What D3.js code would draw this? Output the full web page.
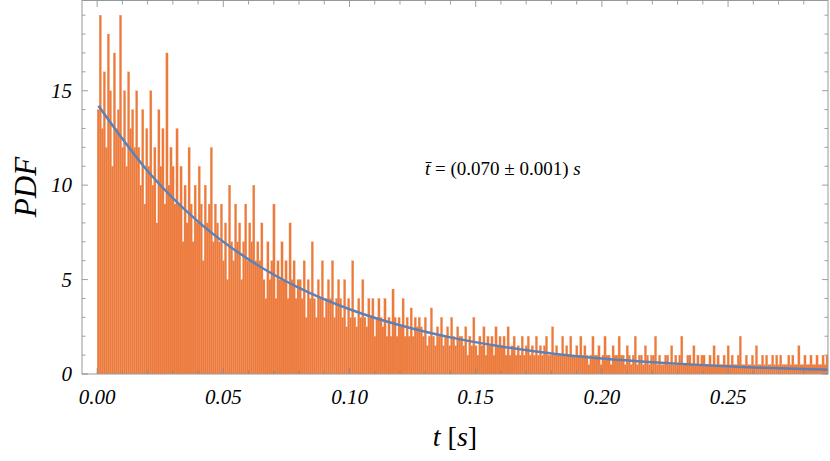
<!DOCTYPE html><html><head><meta charset="utf-8">
<script src="https://cdn.jsdelivr.net/npm/d3@7"></script>
<style>body{margin:0;background:#fff}text{font-family:"Liberation Serif","DejaVu Serif",serif;font-style:italic}</style>
</head><body><svg id="c" width="830" height="461"></svg>
<script>
const binWidth = 0.0008;
const pdfValues = [
14,19,13,16,12,18,15,11,17,13,14,19,12,15,11,16,13,14,12,15,
12,10,14,9,13,11,15,10,12,8,14,11,13,9,17,10,12,11,9,13,
9,11,7,10,8,12,9,7,10,8,11,9,6,10,8,9,12,7,9,8,
7,9,6,8,5,10,7,6,9,7,8,5,7,9,6,8,7,10,6,7,
6,8,5,4,7,5,6,9,4,6,5,7,5,6,4,8,5,6,4,5,
5,4,6,3,5,4,7,4,3,5,4,6,3,4,5,4,6,3,4,5,
4,3,5,2.5,4,3,6,3,2.5,4,3,5,3,2.5,4,3,4,2,3,4,
3,2.5,4,2,3,2,4.5,3,2,3,2.5,4,2,3,2,3.5,2,3,2.5,3,
2.5,2,3,1.5,2,3.5,2,1.5,2.5,2,3,1.5,2,2.5,1.5,3,2,1.5,2.5,2,
2,1.5,2.5,1,2,1.5,3,1.5,1,2,1.5,2.5,1,2,1.5,2,1,2.5,1.5,2,
1.5,2,1,2.5,1,1.5,2,1,1.5,1,2,1,1.5,2,1,1.5,1,2,1,1.5,
1,1.5,2,1,1,2.5,1,1.5,1,1,2,1,1.5,1,2,1,1,1.5,1,2,
1,1.5,1,0.5,1,2,1,1,1.5,0.5,1,2,1,1,0.5,1.5,1,1,2,1,
1,0.5,1.5,1,0.5,1,2,0.5,1,1,0.5,1.5,1,0.5,1,1,2,0.5,1,0.5,
0.5,1,1,0.5,1.5,0.5,1,0.5,1,2,0.5,0.5,1,1,0.5,1.5,0.5,1,0.5,1,
1,0.5,0.5,1,0.5,1.5,0.5,1,0.5,0.5,1,0.5,1.5,0.5,1,0.5,0.5,1,2,0.5,
0.5,1,0.5,0.5,1,0.5,1.5,0.5,0.5,1,0.5,1,0.5,0.5,1,0.5,1,0.5,1,0.5,
0.5,0.5,1,0.5,1,0.5,0.5,1.5,0.5,0.5,1,0.5,0.5,1,0.5,0.5,1,0.5,0.5,1,
0.5,1,2];
const fitT = [0.0005,0.02,0.04,0.06,0.08,0.10,0.12,0.14,0.16,0.18,0.20,0.22,0.24,0.26,0.28,0.2896];
const fitPDF = [14.2,10.75,8.07,6.07,4.56,3.43,2.58,1.94,1.46,1.09,0.82,0.62,0.47,0.35,0.26,0.23];
const xTicks = [0,0.05,0.10,0.15,0.20,0.25];
const yTicks = [0,5,10,15];

const svg = d3.select("#c");
const L=82,R=828,T=1,B=374;
const x = d3.scaleLinear().domain([-0.006,0.2896]).range([L,R]);
const y = d3.scaleLinear().domain([0,19.75]).range([B,T]);
const clip = svg.append("clipPath").attr("id","cp").append("rect").attr("x",L).attr("y",T).attr("width",R-L).attr("height",B-T);
const g = svg.append("g").attr("clip-path","url(#cp)");
g.selectAll("rect.b").data(pdfValues).join("rect")
 .attr("x",(d,i)=>x(i*binWidth)).attr("width",(d,i)=>x((i+1)*binWidth)-x(i*binWidth)+0.3)
 .attr("y",d=>y(d)).attr("height",d=>B-y(d)).attr("fill","#EC7A3C").attr("stroke","#F3A77A").attr("stroke-width",0.25);
g.append("path").datum(fitT.map((t,i)=>[t,fitPDF[i]]))
 .attr("d",d3.line().x(d=>x(d[0])).y(d=>y(d[1])).curve(d3.curveMonotoneX))
 .attr("fill","none").attr("stroke","#5E81B5").attr("stroke-width",2.5);

// frame
svg.append("rect").attr("x",L).attr("y",T-0.5).attr("width",R-L).attr("height",B-T+0.5).attr("fill","none").attr("stroke","#999").attr("stroke-width",1);
const tk = svg.append("g").attr("stroke","#888").attr("stroke-width",0.8);
d3.range(0,0.2801,0.01).forEach(t=>{const maj=xTicks.some(v=>Math.abs(v-t)<1e-6);const l=maj?6:3.5;
 tk.append("line").attr("x1",x(t)).attr("x2",x(t)).attr("y1",B).attr("y2",B-l);
 tk.append("line").attr("x1",x(t)).attr("x2",x(t)).attr("y1",T).attr("y2",T+l);});
d3.range(0,20,1).forEach(v=>{const maj=v%5===0;const l=maj?6:3.5;
 tk.append("line").attr("x1",L).attr("x2",L+l).attr("y1",y(v)).attr("y2",y(v));
 tk.append("line").attr("x1",R).attr("x2",R-l).attr("y1",y(v)).attr("y2",y(v));});
svg.selectAll("text.xt").data(xTicks).join("text").attr("x",d=>x(d)).attr("y",404).attr("text-anchor","middle")
 .attr("font-size",21).text(d=>d.toFixed(2));
svg.selectAll("text.yt").data(yTicks).join("text").attr("x",72).attr("y",d=>y(d)+7).attr("text-anchor","end")
 .attr("font-size",21).text(d=>d);
svg.append("text").attr("transform","translate(36,187) rotate(-90)").attr("text-anchor","middle").attr("font-size",31).text("PDF");
const xl = svg.append("text").attr("x",455).attr("y",446).attr("text-anchor","middle").attr("font-size",28);
xl.append("tspan").text("t ");xl.append("tspan").style("font-style","normal").text("[");xl.append("tspan").text("s");xl.append("tspan").style("font-style","normal").text("]");
const an = svg.append("text").attr("x",425).attr("y",175).attr("font-size",19);
an.append("tspan").text("t̄");
an.append("tspan").style("font-style","normal").text(" = (0.070 ± 0.001) ");
an.append("tspan").text("s");
</script></body></html>
